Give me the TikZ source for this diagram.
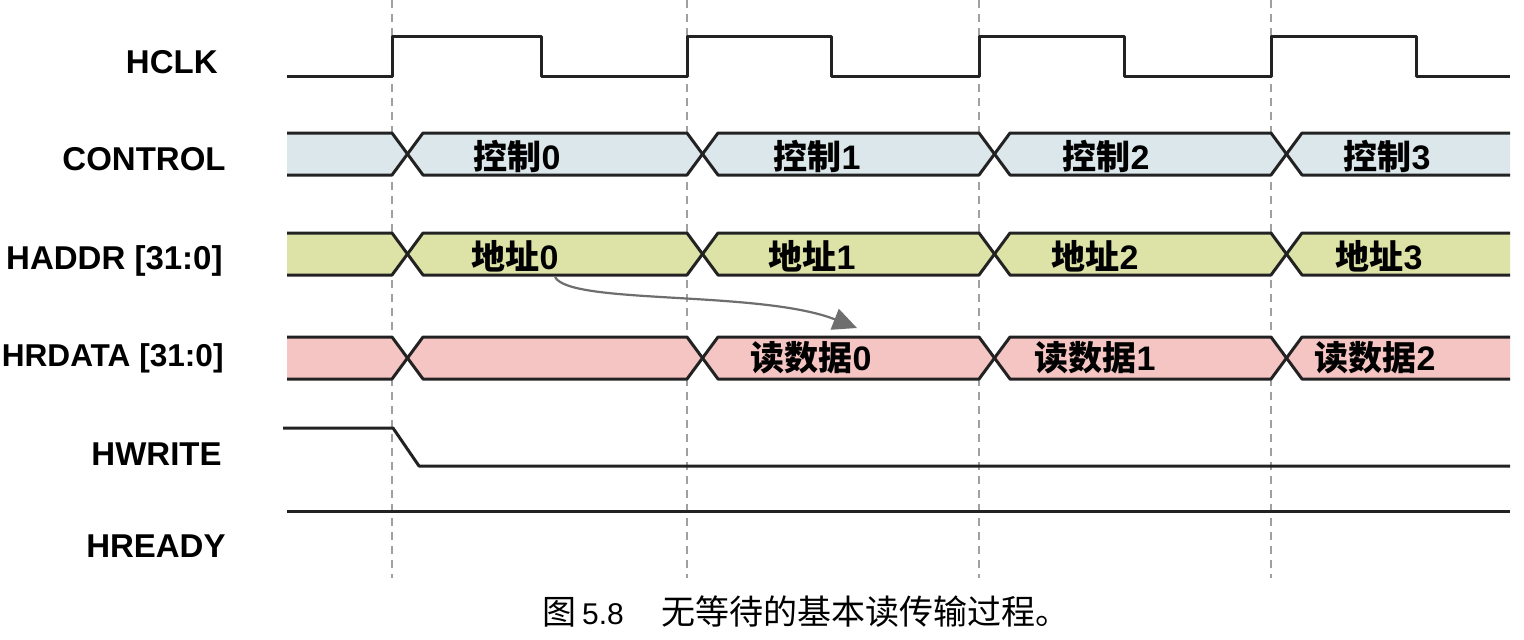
\documentclass[tikz,border=0pt]{standalone}
\usepackage{fontspec}
\setmainfont{Liberation Sans}
\newfontfamily\cjk{Noto Sans CJK SC}
\usetikzlibrary{arrows.meta}
\definecolor{sig}{HTML}{222222}
\definecolor{ctlfill}{HTML}{DCE7EC}
\definecolor{addrfill}{HTML}{DDE3A6}
\definecolor{datafill}{HTML}{F4C5C2}
\definecolor{guide}{HTML}{A0A0A0}
\definecolor{arrowgray}{HTML}{6E6E6E}
\begin{document}
\begin{tikzpicture}[x=0.5pt,y=-0.5pt,
  signal/.style={draw=sig, line width=1.5pt, line join=round},
  guideline/.style={draw=guide, line width=0.9pt, dash pattern=on 4pt off 3pt},
  siglabel/.style={anchor=base east, font=\fontsize{16.5}{19}\selectfont\bfseries, inner sep=0pt},
  buslabel/.style={anchor=center, font=\fontsize{17}{20}\selectfont\bfseries, inner sep=0pt},
  caption/.style={anchor=west, font=\fontsize{17}{20}\selectfont, inner sep=0pt},
]
\useasboundingbox (0,0) rectangle (1524,639);
\fill[white] (0,0) rectangle (1524,639);

% guide lines
\foreach \gx in {392,687,979,1271}
  \draw[guideline] (\gx,0) -- (\gx,578);

% HCLK
\draw[signal] (287,76) -- (392,76) -- (392,36) -- (541,36) -- (541,76) -- (687,76)
  -- (687,36) -- (831,36) -- (831,76) -- (979,76) -- (979,36) -- (1124,36) -- (1124,76)
  -- (1271,76) -- (1271,36) -- (1416,36) -- (1416,76) -- (1510,76);

% buses
\foreach \bt/\bb/\bc in {133/175/ctlfill, 233/275/addrfill, 337/379/datafill}{
  \pgfmathsetmacro\bm{(\bt+\bb)/2}
  \fill[\bc] (287,\bt) -- (392,\bt) -- (407.5,\bm) -- (392,\bb) -- (287,\bb) -- cycle;
  \foreach \ba/\bz in {392/687, 687/979, 979/1271}{
    \fill[\bc] (\ba+31,\bt) -- (\bz,\bt) -- (\bz+15.5,\bm) -- (\bz,\bb) -- (\ba+31,\bb) -- (\ba+15.5,\bm) -- cycle;
  }
  \fill[\bc] (1302,\bt) -- (1510,\bt) -- (1510,\bb) -- (1302,\bb) -- (1286.5,\bm) -- cycle;
  \draw[signal] (287,\bt) -- (392,\bt) -- (423,\bb) -- (687,\bb) -- (718,\bt) -- (979,\bt)
    -- (1010,\bb) -- (1271,\bb) -- (1302,\bt) -- (1510,\bt);
  \draw[signal] (287,\bb) -- (392,\bb) -- (423,\bt) -- (687,\bt) -- (718,\bb) -- (979,\bb)
    -- (1010,\bt) -- (1271,\bt) -- (1302,\bb) -- (1510,\bb);
}

% HWRITE and HREADY
\draw[signal] (283,428) -- (393,428) -- (419,466) -- (1510,466);
\draw[signal] (287,511) -- (1510,511);

% signal names
\node[siglabel] (lhclk) at (218,73) {HCLK};
\node[siglabel] (lctl) at (226,170) {CONTROL};
\node[siglabel] (laddr) at (223,269) {HADDR [31:0]};
\node[siglabel, font=\fontsize{15.8}{19}\selectfont\bfseries] (ldata) at (224,366) {HRDATA [31:0]};
\node[siglabel] (lwr) at (222,465) {HWRITE};
\node[siglabel] (lrdy) at (226,557) {HREADY};

% bus values
\node[buslabel] (c0) at (517,156) {{\cjk 控制}0};
\node[buslabel] (c1) at (817,156) {{\cjk 控制}1};
\node[buslabel] (c2) at (1106,156) {{\cjk 控制}2};
\node[buslabel] (c3) at (1387,156) {{\cjk 控制}3};
\node[buslabel] (a0) at (515,256) {{\cjk 地址}0};
\node[buslabel] (a1) at (812,256) {{\cjk 地址}1};
\node[buslabel] (a2) at (1095,256) {{\cjk 地址}2};
\node[buslabel] (a3) at (1379,256) {{\cjk 地址}3};
\node[buslabel] (d0) at (811,358) {{\cjk 读数据}0};
\node[buslabel] (d1) at (1095,358) {{\cjk 读数据}1};
\node[buslabel] (d2) at (1375,358) {{\cjk 读数据}2};

% arrow from address 0 to read data 0
\coordinate (arrS) at (555,277);
\coordinate (arrE) at (857,328);
\draw[arrowgray, line width=1.1pt, -{Triangle[length=12pt,width=11pt]}]
  (arrS) .. controls (570,305) and (760,290) .. (arrE);

% caption
\node[caption] (cap) at (542,612) {{\cjk 图}\,{\fontsize{15}{18}\selectfont 5.8}\hspace{1.1em}{\cjk 无等待的基本读传输过程。}};
\end{tikzpicture}
\end{document}
